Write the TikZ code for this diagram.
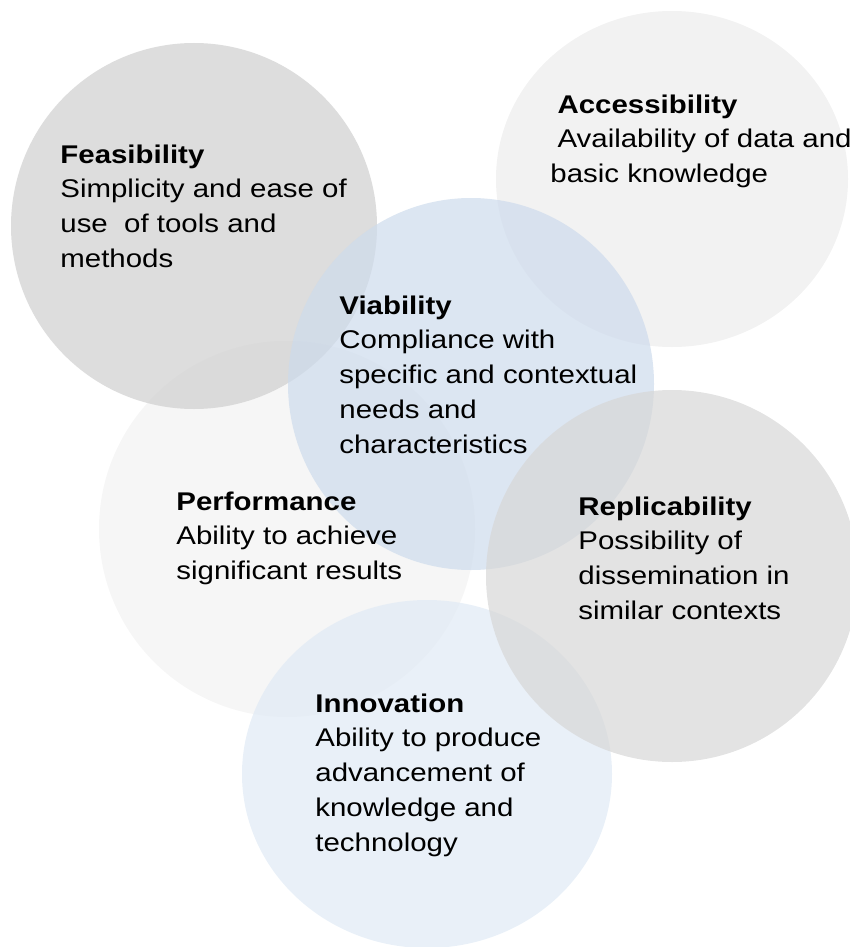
\documentclass[tikz,border=0pt]{standalone}
\usepackage{fontspec}
\setmainfont{Liberation Sans}[FakeStretch=1.15]
\usepackage{tikz}
\usetikzlibrary{positioning}
\usetikzlibrary{shapes.geometric}

\definecolor{feascol}{RGB}{206,206,206}
\definecolor{accecol}{RGB}{236,236,236}
\definecolor{viabcol}{RGB}{205,219,236}
\definecolor{perfcol}{RGB}{242,242,242}
\definecolor{replcol}{RGB}{215,215,215}
\definecolor{innocol}{RGB}{224,234,245}

% first line of a text block sits on the node's base
\newcommand{\lines}[1]{\begin{tabular}[t]{@{}l@{}}#1\end{tabular}}

\begin{document}
\begin{tikzpicture}
          [x=0.5pt, y=-0.5pt,
           disc/.style={ellipse, draw=none, fill opacity=0.7, inner sep=0pt},
           blurb/.style={anchor=base west, inner sep=0pt,
             font=\fontsize{12.8pt}{17.4pt}\selectfont}]
          \useasboundingbox (0,0) rectangle (850,947);
          \clip (0,0) rectangle (850,947);

          % circles
          \node (perf) [disc, fill=perfcol, minimum width=188pt, minimum height=188pt] at (287,529) {};
          \node (feas) [disc, fill=feascol, minimum width=183pt, minimum height=183pt] at (194,226) {};
          \node (acce) [disc, fill=accecol, minimum width=176pt, minimum height=168pt] at (672,179) {};
          \node (inno) [disc, fill=innocol, minimum width=185pt, minimum height=174pt] at (427,774) {};
          \node (viab) [disc, fill=viabcol, minimum width=183pt, minimum height=186pt] at (471,384) {};
          \node (repl) [disc, fill=replcol, minimum width=186pt, minimum height=186pt] at (672,576) {};

          % texts
          \node (feastext) [blurb] at (60,163) {\lines{\textbf{Feasibility}\\
            Simplicity and ease of\\ use\ \ of tools and\\ methods}};
          \node (accetext) [blurb] at (550,113) {\lines{\hspace*{0.28em}\textbf{Accessibility}\\
            \hspace*{0.28em}Availability of data and\\ basic knowledge}};
          \node (viabtext) [blurb] at (339,314) {\lines{\textbf{Viability}\\
            Compliance with\\ specific and contextual\\ needs and\\ characteristics}};
          \node (perftext) [blurb] at (176,510) {\lines{\textbf{Performance}\\
            Ability to achieve\\ significant results}};
          \node (repltext) [blurb] at (578,515) {\lines{\textbf{Replicability}\\
            Possibility of\\ dissemination in\\ similar contexts}};
          \node (innotext) [blurb] at (315,712) {\lines{\textbf{Innovation}\\
            Ability to produce\\ advancement of\\ knowledge and\\ technology}};
        \end{tikzpicture}
\end{document}
